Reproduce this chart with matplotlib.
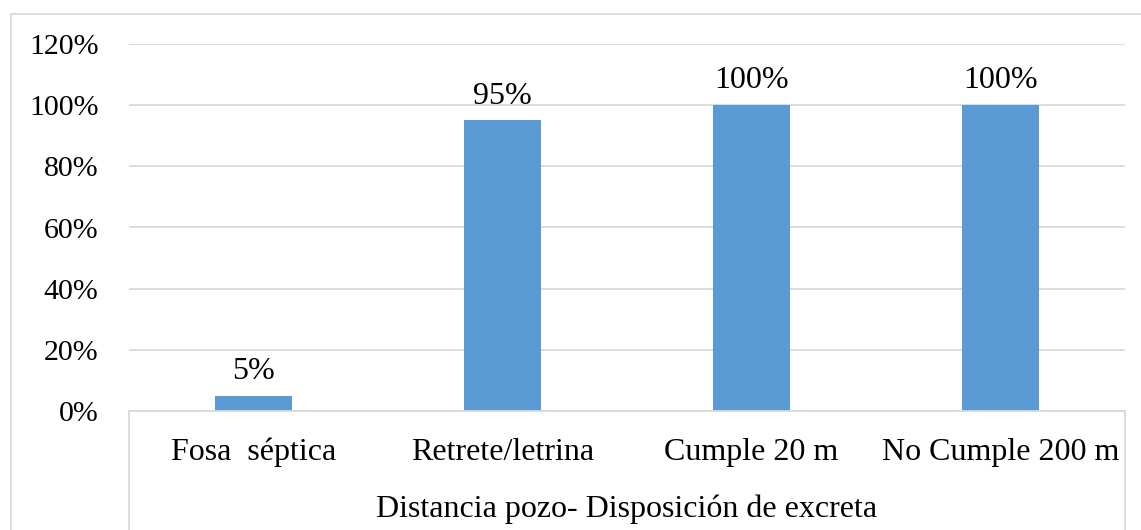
import matplotlib
matplotlib.use("Agg")
import matplotlib.pyplot as plt
from matplotlib.patches import Rectangle
from matplotlib.lines import Line2D

categories = ["Fosa  séptica", "Retrete/letrina", "Cumple 20 m", "No Cumple 200 m"]
values = [0.05, 0.95, 1.00, 1.00]
value_labels = ["5%", "95%", "100%", "100%"]
yticks = [0.0, 0.2, 0.4, 0.6, 0.8, 1.0, 1.2]
ytick_labels = ["0%", "20%", "40%", "60%", "80%", "100%", "120%"]
group_label = "Distancia pozo- Disposición de excreta"

plt.rcParams["font.family"] = ["Liberation Serif", "DejaVu Serif"]
W, H = 1141, 530
fig = plt.figure(figsize=(W / 100, H / 100), dpi=100)

# plot area in pixels
x0, x1 = 129, 1125
y_top, y_base = 44, 411
ax = fig.add_axes([x0 / W, 1 - y_base / H, (x1 - x0) / W, (y_base - y_top) / H])

grid_c = "#D9D9D9"
bar_c = "#5B9BD5"
fs = 23

xpos = list(range(len(categories)))
ax.bar(xpos, values, width=0.313, color=bar_c, zorder=3)
ax.set_xlim(-0.5, len(categories) - 0.5)
ax.set_ylim(0, 1.2)
ax.set_yticks(yticks)
ax.set_yticklabels(ytick_labels, fontsize=21.5)
ax.tick_params(axis="y", length=0, pad=22)
ax.set_xticks([])
ax.yaxis.grid(True, color=grid_c, linewidth=1.3, zorder=0)
for s in ["top", "left", "right"]:
    ax.spines[s].set_visible(False)
ax.spines["bottom"].set_color(grid_c)
ax.spines["bottom"].set_linewidth(1.3)
ax.spines["bottom"].set_zorder(4)

for x, v, lab in zip(xpos, values, value_labels):
    ax.annotate(lab, (x, v), xytext=(0, 7), textcoords="offset points",
                ha="center", va="bottom", fontsize=fs)

# category axis labels and the grouping frame below the plot
px = 1.0 / (y_base - y_top)
tr = ax.get_xaxis_transform()
for x, lab in zip(xpos, categories):
    ax.text(x, -(460 - y_base) * px, lab, transform=tr, ha="center",
            va="baseline", fontsize=fs)
ax.text(0.5, -(517 - y_base) * px, group_label, transform=ax.transAxes,
        ha="center", va="baseline", fontsize=fs)
for xa in (0, 1):
    ax.add_line(Line2D([xa, xa], [0, -(H - y_base + 5) * px], transform=ax.transAxes,
                       color=grid_c, linewidth=1.3, clip_on=False))

# outer chart border
fig.patches.append(Rectangle((10.5 / W, -0.1), 2, 1 - 13.5 / H + 0.1,
                             transform=fig.transFigure, fill=False,
                             edgecolor=grid_c, linewidth=1.3))

fig.savefig("out.png", dpi=100)
